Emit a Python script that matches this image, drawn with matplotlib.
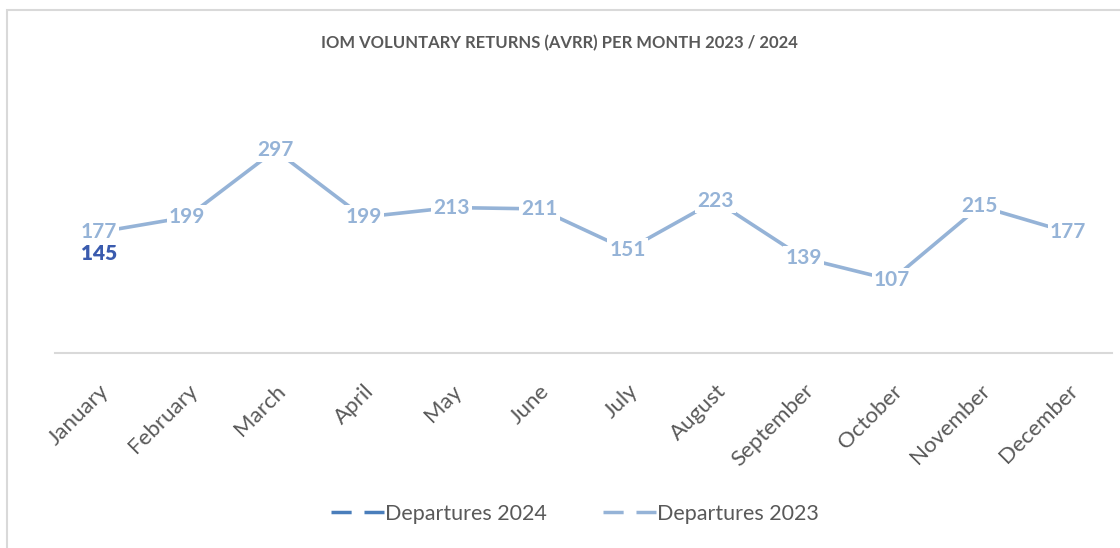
import numpy as np
import matplotlib
matplotlib.use('Agg')
import matplotlib.pyplot as plt
from matplotlib.patches import Rectangle

plt.rcParams['font.family'] = ['Lato', 'DejaVu Sans']

months = ['January', 'February', 'March', 'April', 'May', 'June', 'July',
          'August', 'September', 'October', 'November', 'December']
dep_2023 = [177, 199, 297, 199, 213, 211, 151, 223, 139, 107, 215, 177]
dep_2024 = [145] + [np.nan] * 11

c23 = '#95B3D7'
c24 = '#4A7EBB'
c24_lab = '#3A5BAE'
grey = '#595959'

fig = plt.figure(figsize=(11.2, 5.48), dpi=100)
ax = fig.add_axes([55 / 1120, 195 / 548, 1057 / 1120, 239 / 548])

x = np.arange(len(months))
ax.plot(x, dep_2024, color=c24, lw=2.5, label='Departures 2024', zorder=2)
ax.plot(x, dep_2023, color=c23, lw=2.6, label='Departures 2023', zorder=2,
        solid_capstyle='round')

# labels sit on the points, white box hides the line underneath
for xi, v in zip(x, dep_2023):
    ax.text(xi, v, str(v), ha='center', va='center', fontsize=15, color=c23,
            fontweight='bold', zorder=4,
            bbox=dict(boxstyle='square,pad=0.1', fc='white', ec='none'))
for xi, v in zip(x, dep_2024):
    if not np.isnan(v):
        ax.text(xi, v, str(int(v)), ha='center', va='center', fontsize=15,
                color=c24_lab, fontweight='heavy', zorder=4,
                bbox=dict(boxstyle='square,pad=0.1', fc='white', ec='none'))

ax.set_xlim(-0.5, 11.5)
ax.set_ylim(0, 350)
ax.set_yticks([])
ax.set_xticks(x)
ax.set_xticklabels(months, rotation=45, ha='right', rotation_mode='anchor',
                   fontsize=16, color=grey)
ax.tick_params(axis='x', length=0, pad=20)
for s in ['top', 'right', 'left']:
    ax.spines[s].set_visible(False)
ax.spines['bottom'].set_color('#D9D9D9')
ax.spines['bottom'].set_linewidth(1.5)

fig.text(559 / 1120, 1 - 43 / 548, 'IOM VOLUNTARY RETURNS (AVRR) PER MONTH 2023 / 2024',
         ha='center', va='center', fontsize=12, fontweight='bold', color=grey)

leg_h = [plt.Line2D([], [], color=c24, lw=2.5, dashes=(5.8, 3.7)),
         plt.Line2D([], [], color=c23, lw=2.5, dashes=(5.8, 3.7))]
fig.legend(leg_h, ['Departures 2024', 'Departures 2023'], loc='center',
           bbox_to_anchor=(575 / 1120, 1 - 514 / 548), ncol=2, frameon=False,
           fontsize=15.5, labelcolor=grey, handlelength=2.45, handletextpad=0.05,
           columnspacing=2.6)

# chart border
fig.add_artist(Rectangle((7 / 1120, -0.1), 1.2, 1 - 10 / 548 + 0.1,
                         transform=fig.transFigure, fill=False,
                         ec='#D9D9D9', lw=1.5))

fig.savefig('out.png', dpi=100)
